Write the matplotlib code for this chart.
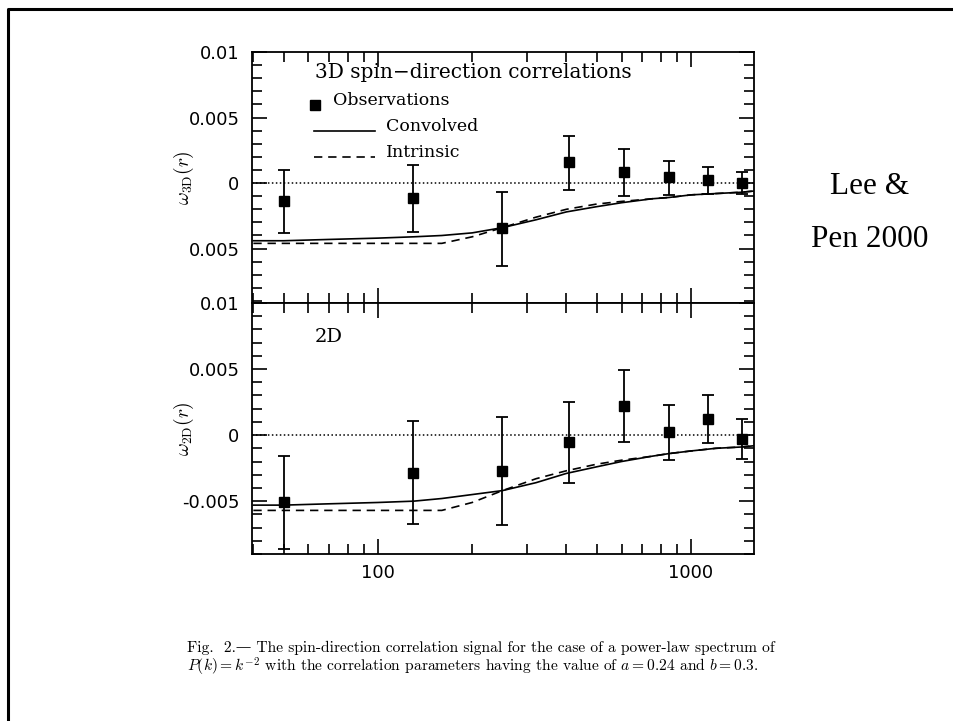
import numpy as np
import matplotlib
matplotlib.use("Agg")
import matplotlib.pyplot as plt
from matplotlib.lines import Line2D

plt.rcParams["mathtext.fontset"] = "cm"

# Datos.
r_obs = [50, 129, 249, 407, 611, 851, 1133, 1456]

w3d = [-0.00138, -0.00115, -0.00346, 0.0016, 0.00085, 0.00046, 0.00023, 0.0]
w3d_hi = [0.0010, 0.00138, -0.00069, 0.0036, 0.0026, 0.0017, 0.0012, 0.00085]
w3d_lo = [-0.0038, -0.0037, -0.0063, -0.00054, -0.0010, -0.0009, -0.00085, -0.00085]

w2d = [-0.0051, -0.0029, -0.0027, -0.0005, 0.0022, 0.0002, 0.0012, -0.0003]
w2d_hi = [-0.0016, 0.0011, 0.0014, 0.0025, 0.0049, 0.0023, 0.0030, 0.0012]
w2d_lo = [-0.0086, -0.0067, -0.0068, -0.0036, -0.0005, -0.0019, -0.0006, -0.0018]

# Curvas del modelo.
r_mod = [40, 50, 70, 100, 130, 160, 200, 250, 320, 400, 500, 600, 750, 850, 1000, 1200, 1450, 1600]
conv3d = [-0.0044, -0.0044, -0.0043, -0.0042, -0.0041, -0.0040, -0.0038, -0.0034, -0.0028,
          -0.0022, -0.0018, -0.0015, -0.0012, -0.0011, -0.0009, -0.0008, -0.0007, -0.0006]
intr3d = [-0.0046, -0.0046, -0.0046, -0.0046, -0.0046, -0.0046, -0.0041, -0.0034, -0.0026,
          -0.0020, -0.0016, -0.0014, -0.0012, -0.0011, -0.0009, -0.0008, -0.0007, -0.0006]
conv2d = [-0.0053, -0.0053, -0.0052, -0.0051, -0.0050, -0.0048, -0.0045, -0.0042, -0.0036,
          -0.0029, -0.0024, -0.0020, -0.0016, -0.0014, -0.0012, -0.0010, -0.0009, -0.0008]
intr2d = [-0.0057, -0.0057, -0.0057, -0.0057, -0.0057, -0.0057, -0.0051, -0.0042, -0.0033,
          -0.0027, -0.0022, -0.0019, -0.0016, -0.0014, -0.0012, -0.0010, -0.0009, -0.0008]

ticks_top = [0.01, 0.005, 0, -0.005]
labels_top = ["0.01", "0.005", "0", "0.005"]
ticks_bot = [0.01, 0.005, 0, -0.005]
labels_bot = ["0.01", "0.005", "0", "-0.005"]

caption1 = "Fig.  2.\u2014 The spin-direction correlation signal for the case of a power-law spectrum of"
caption2 = "$P(k) = k^{-2}$ with the correlation parameters having the value of $a = 0.24$ and $b = 0.3$."


fig = plt.figure(figsize=(9.54, 7.21), dpi=100)
W, H = 954.0, 721.0

ax1 = fig.add_axes([252 / W, 1 - 303 / H, 502 / W, 251 / H])
ax2 = fig.add_axes([252 / W, 1 - 554 / H, 502 / W, 251 / H])

lw = 1.2


def panel(ax, y, yhi, ylo, conv, intr, ylim, ticks, labels, ylab):
    y = np.array(y)
    err = [y - np.array(ylo), np.array(yhi) - y]
    ax.axhline(0, color="k", ls=(0, (1, 1.6)), lw=1.1)
    ax.plot(r_mod, conv, "k-", lw=lw)
    ax.plot(r_mod, intr, "k", ls=(0, (5, 3.5)), lw=lw)
    ax.errorbar(r_obs, y, yerr=err, fmt="s", color="k", ms=7.5, ecolor="k",
                elinewidth=1.3, capsize=4.5, capthick=1.3)
    ax.set_xscale("log")
    ax.set_xlim(39.6, 1590)
    ax.set_ylim(*ylim)
    ax.set_yticks(ticks)
    ax.set_yticklabels(labels)
    ax.set_yticks(np.arange(-0.009, 0.0101, 0.001), minor=True)
    ax.tick_params(which="both", direction="in", top=True, right=True, width=1.2)
    ax.tick_params(which="major", length=11, labelsize=13, pad=9)
    ax.tick_params(which="minor", length=7)
    for s in ax.spines.values():
        s.set_linewidth(1.3)
    ax.set_ylabel(ylab, fontsize=14)
    ax.yaxis.set_label_coords(-0.112, 0.5)


panel(ax1, w3d, w3d_hi, w3d_lo, conv3d, intr3d, (-0.00915, 0.01), ticks_top, labels_top,
      r"$\omega_{\rm 3D}(r)$")
panel(ax2, w2d, w2d_hi, w2d_lo, conv2d, intr2d, (-0.0089, 0.01), ticks_bot, labels_bot,
      r"$\omega_{\rm 2D}(r)$")

ax1.tick_params(labelbottom=False)
ax2.set_xticks([100, 1000])
ax2.set_xticklabels(["100", "1000"])
ax2.tick_params(axis="x", which="major", pad=7)
ax2.xaxis.set_minor_formatter(plt.NullFormatter())
ax1.xaxis.set_minor_formatter(plt.NullFormatter())

# Leyenda a mano.
tf = dict(family="DejaVu Serif", fontsize=14.5, transform=ax1.transAxes, va="center")
ax1.text(0.1255, 0.92, "3D spin\u2212direction correlations", **tf)
ax1.plot([0.1255], [0.789], "ks", ms=7.5, transform=ax1.transAxes)
ax1.text(0.161, 0.807, "Observations", **dict(tf, fontsize=12.5))
ax1.plot([0.1235, 0.245], [0.685, 0.685], "k-", lw=lw, transform=ax1.transAxes)
ax1.text(0.267, 0.705, "Convolved", **dict(tf, fontsize=12.5))
ax1.plot([0.1235, 0.245], [0.582, 0.582], "k", ls=(0, (5, 3.5)), lw=lw, transform=ax1.transAxes)
ax1.text(0.267, 0.598, "Intrinsic", **dict(tf, fontsize=12.5))
ax2.text(0.1255, 0.865, "2D", family="DejaVu Serif", fontsize=14, transform=ax2.transAxes,
         va="center")

# Texto a la derecha.
fig.text(870 / W, 1 - 186 / H, "Lee &", family="Liberation Serif", fontsize=22.5,
         ha="center", va="center")
fig.text(870 / W, 1 - 239 / H, "Pen 2000", family="Liberation Serif", fontsize=22.5,
         ha="center", va="center")

# Pie de figura.
fig.text(187 / W, 1 - 648 / H, caption1, family=["cmr10", "DejaVu Serif"], fontsize=11.2,
         va="center")
fig.text(187 / W, 1 - 667 / H, caption2, family=["cmr10", "DejaVu Serif"], fontsize=11.2,
         va="center")

# Marco.
fig.add_artist(Line2D([8 / W, 8 / W, 1.0], [0.0, 1 - 9 / H, 1 - 9 / H], color="k", lw=2.2,
                      transform=fig.transFigure))

fig.savefig("out.png", dpi=100)
